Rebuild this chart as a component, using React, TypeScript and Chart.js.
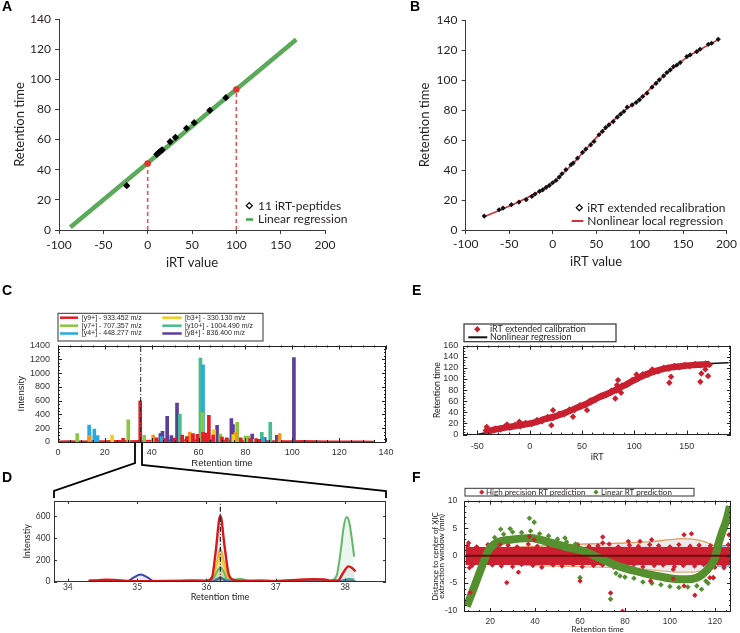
import React, { useEffect, useRef } from 'react';
import { Chart, registerables } from 'chart.js';
Chart.register(...registerables);

const LATO = 'Lato, "Open Sans", "DejaVu Sans", sans-serif';
const ARIAL = '"Liberation Sans", Arial, sans-serif';
const TXT = '#231f20';

// ---------------- Panel A ----------------
const aPeptideIrt = [-23.6, 10.3, 12.3, 14.3, 16.3, 25.3, 31.3, 43.8, 52.4, 70.1, 88.2];
const aPeptideRt = [29.4, 50.2, 51.3, 52.3, 53.2, 58.6, 61.5, 67.5, 71.2, 79.4, 87.8];
const aRegIrt = [-87.2, 167.6];
const aRegRt = [1.8, 126.4];
const aAnchorIrt = [0, 100];
const aAnchorRt = [44.2, 93.3];

// ---------------- Panel B ----------------
const bIrt = [-78.7, -61.6, -57, -47.5, -38.7, -30.4, -23.9, -20.2, -15.2, -11.4, -7.6, -3.8, 0, 3.8, 7.6, 10.7, 15.2, 21, 23.6, 28.6, 34.3, 38.1, 43.8, 47.6, 53.3, 57.2, 61, 64.8, 69.7, 74.3, 78.1, 81.9, 85.7, 91.4, 96, 99.8, 103.6, 108.5, 114.3, 118.9, 122.7, 127.6, 131.4, 135.2, 139, 142.9, 146.7, 154.3, 158.1, 165.7, 169.5, 179, 182.8, 190.4];
const bRt = [9.3, 13.5, 14.6, 16.9, 18.6, 20.2, 22.4, 24, 25.7, 26.8, 28.4, 29.7, 31.5, 33, 35.3, 37.5, 40.2, 43.5, 44.6, 47.9, 51.7, 53.9, 56.8, 59, 63.5, 65.7, 68.3, 70.1, 72.3, 75.2, 77.2, 79, 81.9, 83.4, 85, 86.8, 89, 91.2, 95.2, 97.8, 100.1, 102.7, 105, 106.7, 108.9, 110, 111.6, 115.6, 116.7, 118.9, 120.5, 123.8, 124.5, 127.1];
const bFitIrt = [-78, -60, -40, -20, 0, 20, 40, 60, 80, 100, 120, 140, 160, 180, 190];
const bFitRt = [9, 13.4, 18.5, 24.3, 31.5, 42.3, 55, 67.6, 78.3, 87.3, 98.7, 108.8, 117.2, 123.6, 126.8];

// ---------------- Panel C ----------------
const cY9T = [27.8, 35.1, 42, 45.5, 49.8, 53, 55, 57.6, 59.5, 61.9, 63, 64.4, 66.2, 70, 72, 78, 82, 84.6, 86, 105];
const cY9I = [53, 599, 60, 50, 58, 100, 80, 121, 110, 140, 130, 386, 100, 70, 60, 60, 50, 50, 40, 20];
const cY7T = [8.2, 30, 36.8, 61.6, 69.3, 76.5, 80, 81.2];
const cY7I = [121, 323, 97, 430, 116, 285, 87, 85];
const cY4T = [13.3, 15.5, 16.9, 44.2, 61.9, 87.6];
const cY4I = [246, 188, 92, 80, 1120, 60];
const cB3T = [23.1, 66.6, 74.8, 84];
const cB3I = [101, 179, 106, 40];
const cOrT = [13.6, 40.6, 56.2, 75.8, 94.6];
const cOrI = [97, 101, 145, 140, 121];
const cY10T = [52, 60.8, 72.2, 87, 90.6];
const cY10I = [406, 1217, 50, 140, 285];
const cY8T = [43.7, 44.6, 46.6, 48.4, 50.8, 57.4, 67.9, 74, 74.7, 82.9, 88.2, 93.4, 100.7];
const cY8I = [121, 155, 372, 92, 565, 100, 241, 338, 251, 116, 63, 97, 1226];
const cBaseT = [0, 5, 10, 15, 20, 25, 30, 35, 40, 45, 50, 55, 60, 65, 70, 75, 80, 85, 90, 95, 100, 105, 110, 115, 120, 125, 130, 135];
const cBaseI = [8, 10, 9, 12, 10, 14, 12, 15, 18, 20, 22, 25, 20, 22, 18, 20, 16, 14, 12, 12, 10, 15, 10, 8, 8, 6, 6, 5];
const cMarkT = [35.3, 35.3];
const cMarkI = [0, 1400];

// ---------------- Panel D ----------------
const dRedT = [34.3, 34.45, 34.55, 34.7, 34.85, 35.1, 35.4, 35.7, 35.85, 36.0, 36.08, 36.13, 36.2, 36.26, 36.32, 36.4, 36.55, 36.8, 37.1, 37.35, 37.55, 37.7, 37.8, 37.9, 37.97, 38.05, 38.1, 38.15];
const dRedI = [10, 14, 18, 14, 8, 5, 6, 8, 10, 8, 40, 260, 605, 330, 70, 15, 6, 5, 8, 18, 22, 20, 8, 12, 80, 140, 125, 95];
const dOrT = [34.3, 35.6, 35.8, 36.0, 36.08, 36.14, 36.2, 36.26, 36.33, 36.45, 37.0, 37.9, 38.0, 38.15];
const dOrI = [5, 5, 15, 5, 20, 150, 300, 160, 20, 5, 5, 5, 8, 8];
const dYeT = [36.0, 36.1, 36.15, 36.2, 36.25, 36.3, 36.4];
const dYeI = [3, 40, 160, 240, 150, 30, 3];
const dGrT = [34.3, 36.0, 36.1, 36.15, 36.2, 36.25, 36.3, 36.4, 36.5, 36.6, 36.8, 36.9, 37.0, 37.8, 38.15];
const dGrI = [3, 3, 30, 90, 130, 90, 20, 20, 25, 10, 15, 10, 3, 3, 3];
const dLgT = [37.0, 37.75, 37.82, 37.88, 37.93, 37.98, 38.02, 38.06, 38.1, 38.13];
const dLgI = [3, 3, 15, 60, 250, 500, 590, 540, 380, 230];
const dTeT = [34.3, 36.05, 36.15, 36.2, 36.25, 36.35, 37.9, 37.98, 38.05, 38.13];
const dTeI = [2, 2, 25, 40, 25, 2, 2, 15, 25, 20];
const dBlT = [34.3, 34.85, 34.95, 35.05, 35.15, 35.25, 36.1, 36.17, 36.2, 36.23, 36.3, 38.15];
const dBlI = [2, 2, 40, 65, 40, 2, 2, 25, 35, 25, 2, 2];
const dMarkT = [36.2, 36.2];
const dMarkI = [0, 740];

// ---------------- Panel E ----------------
const eFitIrt = [-50, -30, 0, 25, 50, 75, 100, 125, 150, 170, 190];
const eFitRt = [0, 8, 20, 33, 51, 74, 100, 117, 125, 128, 129.3];
const eBandIrt = [-43, -35, -25, -15, -5, 5, 15, 25, 35, 45, 55, 65, 75, 85, 95, 105, 115, 125, 135, 145, 155, 165, 172];
const eBandRt = [5, 8, 12, 15, 18, 22, 28, 33, 40, 48, 56, 66, 74, 83, 93, 103, 111, 117, 121, 123, 125, 126, 127];
const ePtIrt = [-42, -38, -33, -28, -24, -19, -14, -9, -4, 2, 7, 12, 17, 22, 28, 33, 38, 43, 48, 53, 58, 63, 68, 73, 78, 83, 88, 93, 98, 103, 108, 113, 118, 123, 128, 133, 138, 143, 148, 153, 158, 163, 168, 172];
const ePtRt = [7, 5, 11, 9, 14, 12, 17.5, 15, 21, 19, 26, 24, 31.5, 29.5, 37.5, 36.5, 45, 44, 53, 52, 61.5, 62, 70, 70.5, 79, 79, 88.5, 89, 98.5, 99.5, 108.5, 107.5, 115.5, 114, 120.5, 118.5, 123.5, 121, 125.5, 123, 127, 124.5, 128, 125.5];
const eOutIrt = [-41, -21.7, -9.9, 20.7, 22.3, 41.4, 54.8, 57.3, 81.8, 83.4, 84.4, 87.3, 102, 117, 133.4, 135, 132.2, 163, 164, 170.4, 167.8];
const eOutRt = [13.8, 18, 22.9, 16.8, 43.9, 31.9, 43.9, 58.9, 65, 89, 98, 75.2, 108.3, 117.3, 93.2, 104.1, 120.9, 95, 110, 105.3, 117.3];

// ---------------- Panel F ----------------
const fZeroRt = [9, 127];
const fZeroD = [0, 0];
const fRedBandRt = [9, 127];
const fRedBandHi = [1.5, 1.5];
const fRedBandLo = [-1.6, -1.6];
const fRedTopRt = [10, 14, 19, 23, 28, 32, 37, 41, 46, 50, 55, 59, 64, 68, 73, 77, 82, 86, 91, 95, 100, 104, 109, 113, 118, 122, 126];
const fRedTopD = [1.8, 1.6, 2.0, 1.7, 1.9, 1.6, 2.1, 1.7, 1.8, 1.9, 1.6, 2.0, 1.7, 1.8, 2.1, 1.6, 1.9, 1.7, 2.0, 1.8, 1.6, 2.0, 1.7, 1.9, 1.8, 1.6, 2.0];
const fRedBotRt = [12, 16, 21, 25, 30, 34, 39, 43, 48, 52, 57, 61, 66, 70, 75, 79, 84, 88, 93, 97, 102, 106, 111, 115, 120, 124];
const fRedBotD = [-1.8, -2.1, -1.7, -1.9, -2.0, -1.6, -1.8, -2.1, -1.7, -1.9, -1.6, -2.0, -1.8, -1.7, -2.1, -1.9, -1.6, -2.0, -1.8, -1.7, -2.0, -1.8, -1.9, -1.6, -2.1, -1.8];
const fRedOutRt = [10.4, 10.8, 11.1, 14.1, 24.4, 27.4, 32.6, 37.5, 39.6, 60, 70.1, 70.1, 73.6, 78.9, 81.5, 86.7, 91.4, 91.9, 101.5, 101.5, 106.3, 106.3, 109.6, 111.1, 117.8, 119.3, 124.1, 126.3];
const fRedOutD = [2.3, -2.2, -6.7, 1.4, 2, -4.9, -3, 3.5, 2.9, -4.6, 3.4, 2.3, -6.8, -10.1, 2.6, 2.6, -4.6, 2.9, -2.5, -4.2, 3.8, -5.5, 4, -7.2, -4, -4, -2.2, 3.8];
const fGrnRt = [9.6, 11.9, 14.1, 16.3, 17.8, 19.3, 21.5, 24.4, 28.9, 33.3, 37.8, 42.2, 46.7, 51.1, 55.6, 60, 64.4, 68.9, 73.3, 77.8, 83.7, 89.6, 95.6, 101.5, 107.4, 111.9, 114.8, 117.8, 120, 121.5, 123, 125.2, 126.7];
const fGrnD = [-9.2, -6.8, -4.4, -2.0, -0.4, 1.0, 2.0, 2.6, 2.9, 3.1, 3.2, 2.9, 2.4, 1.9, 1.4, 1.0, 0.4, -0.5, -1.3, -2.0, -2.7, -3.3, -3.8, -4.2, -4.3, -4.0, -3.3, -2.0, -0.5, 2.0, 4.0, 6.5, 9.0];
const fGrnPtRt = [22, 26, 30, 34, 38, 42, 46, 50, 54, 58, 76, 80, 84, 88, 92, 96, 100, 104, 108, 112, 116];
const fGrnPtD = [3.3, 3.9, 4.3, 4.2, 4.5, 4.0, 3.6, 3.0, 2.5, 2.1, -3.2, -3.9, -4.1, -4.8, -5.0, -5.3, -5.6, -5.8, -5.7, -5.5, -4.6];
const fGrnOutRt = [24.7, 28.9, 37.5, 39.6, 53.3, 60, 73.6, 77.8, 114.1, 117, 119.3];
const fGrnOutD = [4.8, 4.9, 6.8, 6.1, 3.2, -4, -7.9, -3.7, -6.1, -5, -4];
const fOrRt = [9, 20, 30, 40, 50, 60, 70, 80, 90, 100, 105, 110, 115, 120, 122];
const fOrHi = [1.1, 1.3, 1.5, 1.7, 1.9, 2.1, 2.2, 2.3, 2.5, 2.9, 3.1, 3.0, 2.6, 1.8, 1.6];
const fOrLo = [-1.3, -1.5, -1.6, -1.8, -1.9, -2.0, -2.1, -2.2, -2.5, -2.9, -3.0, -3.0, -2.6, -1.9, -1.7];
const fBlueRt = [121, 127];
const fBlueHi = [1.8, 1.8];
const fBlueLo = [-1.9, -1.9];

// ---------------- helpers ----------------
const pts = (xs: number[], ys: number[]) => xs.map((x, i) => ({ x, y: ys[i] }));
const fmt = (v: any) => String(v);

function frame(ticks: any[], color = '#222') {
  return {
    id: 'frameTicks',
    afterDatasetsDraw(chart: any) {
      const { ctx, chartArea: ca, scales } = chart;
      ctx.save();
      ctx.strokeStyle = color;
      ctx.lineWidth = 1;
      ctx.strokeRect(Math.round(ca.left) + 0.5, Math.round(ca.top) + 0.5, Math.round(ca.right - ca.left) - 1, Math.round(ca.bottom - ca.top) - 1);
      ticks.forEach((t: any) => {
        const s = scales[t.axis];
        const k0 = Math.ceil((s.min - 1e-9) / t.step);
        const k1 = Math.floor((s.max + 1e-9) / t.step);
        ctx.beginPath();
        for (let k = k0; k <= k1; k++) {
          const p = Math.round(s.getPixelForValue(k * t.step)) + 0.5;
          t.sides.forEach((side: string) => {
            if (side === 'bottom') { ctx.moveTo(p, ca.bottom); ctx.lineTo(p, ca.bottom - t.len); }
            if (side === 'top') { ctx.moveTo(p, ca.top); ctx.lineTo(p, ca.top + t.len); }
            if (side === 'left') { ctx.moveTo(ca.left, p); ctx.lineTo(ca.left + t.len, p); }
            if (side === 'right') { ctx.moveTo(ca.right, p); ctx.lineTo(ca.right - t.len, p); }
          });
        }
        ctx.stroke();
      });
      ctx.restore();
    },
  };
}

function legend(cfg: any) {
  return {
    id: 'legendBox',
    afterDraw(chart: any) {
      const ctx = chart.ctx;
      ctx.save();
      if (cfg.box) {
        const [x1, y1, x2, y2] = cfg.box;
        ctx.fillStyle = '#fff';
        ctx.fillRect(x1, y1, x2 - x1, y2 - y1);
        ctx.strokeStyle = '#333';
        ctx.lineWidth = cfg.boxLw || 1;
        ctx.strokeRect(x1, y1, x2 - x1, y2 - y1);
      }
      ctx.font = cfg.font;
      ctx.textBaseline = 'middle';
      ctx.textAlign = 'left';
      cfg.items.forEach((it: any) => {
        if (it.kind === 'line') {
          ctx.strokeStyle = it.color;
          ctx.lineWidth = it.lw || 2;
          ctx.beginPath();
          ctx.moveTo(it.x1, it.y);
          ctx.lineTo(it.x2, it.y);
          ctx.stroke();
        } else {
          const r = it.r || 3;
          ctx.beginPath();
          ctx.moveTo(it.x1, it.y - r);
          ctx.lineTo(it.x1 + r, it.y);
          ctx.lineTo(it.x1, it.y + r);
          ctx.lineTo(it.x1 - r, it.y);
          ctx.closePath();
          if (it.kind === 'odiamond') { ctx.strokeStyle = it.color; ctx.lineWidth = 1.2; ctx.stroke(); }
          else { ctx.fillStyle = it.color; ctx.fill(); }
        }
        ctx.fillStyle = cfg.color || TXT;
        ctx.fillText(it.text, it.tx, it.y + (cfg.dy || 0));
      });
      ctx.restore();
    },
  };
}

function openAxis(o: any) {
  return {
    type: 'linear', min: o.min, max: o.max, offset: false,
    afterFit: (s: any) => { if (o.horizontal) s.height = o.fit; else s.width = o.fit; },
    ticks: { stepSize: o.step, font: { family: LATO, size: 12 }, color: TXT, padding: o.pad, includeBounds: false, autoSkip: false, maxRotation: 0, minRotation: 0, callback: fmt },
    grid: { drawOnChartArea: false, drawTicks: true, tickLength: 4, color: '#3a3a3a' },
    border: { display: true, color: '#3a3a3a', width: 1 },
    title: { display: true, text: o.title, font: { family: LATO, size: 13 }, color: TXT, padding: o.horizontal ? { top: 0, bottom: o.titlePad } : { top: o.titlePad, bottom: 0 } },
  };
}

function boxAxis(o: any) {
  return {
    type: 'linear', min: o.min, max: o.max, offset: false,
    afterFit: (s: any) => { if (o.horizontal) s.height = o.fit; else s.width = o.fit; },
    ticks: { stepSize: o.step, font: o.tickFont, color: '#333', padding: o.pad, includeBounds: false, autoSkip: false, maxRotation: 0, minRotation: 0, callback: fmt },
    grid: { display: false, drawTicks: false, offset: false },
    border: { display: false },
    title: { display: true, text: o.title, font: o.titleFont, color: '#222', padding: o.horizontal ? { top: 0, bottom: o.titlePad } : { top: o.titlePad, bottom: 0 } },
  };
}

function base(padding: any, scales: any) {
  return {
    responsive: false, animation: false, devicePixelRatio: 1, events: [],
    layout: { padding },
    plugins: { legend: { display: false }, tooltip: { enabled: false }, title: { display: false } },
    scales,
  };
}

const lineDs = (xs: number[], ys: number[], color: string, w: number, extra: any = {}) => ({
  type: 'line', data: pts(xs, ys), borderColor: color, borderWidth: w, pointRadius: 0, fill: false, ...extra,
});
const dotDs = (xs: number[], ys: number[], color: string, r: number, extra: any = {}) => ({
  type: 'scatter', data: pts(xs, ys), pointStyle: 'rectRot', pointRadius: r, pointBackgroundColor: color, pointBorderWidth: 0, backgroundColor: color, borderWidth: 0, ...extra,
});

// ---------------- chart configs ----------------
function makeA() {
  return {
    type: 'scatter',
    data: {
      datasets: [
        dotDs(aAnchorIrt, aAnchorRt, '#e8302c', 3.2, { pointStyle: 'circle' }),
        dotDs(aPeptideIrt, aPeptideRt, '#000', 3.6),
        lineDs(aRegIrt, aRegRt, '#5aaa5a', 4.5),
        lineDs([aAnchorIrt[0], aAnchorIrt[0]], [0, aAnchorRt[0]], '#e05555', 1.6, { borderDash: [4, 3] }),
        lineDs([aAnchorIrt[1], aAnchorIrt[1]], [0, aAnchorRt[1]], '#e05555', 1.6, { borderDash: [4, 3] }),
      ],
    },
    options: base({ left: 0, right: 40, top: 19, bottom: 0 }, {
      x: openAxis({ min: -100, max: 200, step: 50, horizontal: true, fit: 45, pad: 4, title: 'iRT value', titlePad: 4.2 }),
      y: openAxis({ min: 0, max: 140, step: 20, horizontal: false, fit: 59, pad: 4, title: 'Retention time', titlePad: 12.2 }),
    }),
    plugins: [legend({
      font: `12px ${LATO}`,
      items: [
        { kind: 'odiamond', color: '#000', x1: 249.3, y: 205.7, r: 3, text: '11 iRT-peptides', tx: 258 },
        { kind: 'line', color: '#3fa64a', x1: 246, x2: 253, y: 219.5, lw: 2.5, text: 'Linear regression', tx: 258 },
      ],
    })],
  };
}

function makeB() {
  return {
    type: 'scatter',
    data: {
      datasets: [
        dotDs(bIrt, bRt, '#111', 2.6),
        lineDs(bFitIrt, bFitRt, '#d0313d', 1.6, { cubicInterpolationMode: 'monotone' }),
      ],
    },
    options: base({ left: 0, right: 12, top: 20, bottom: 0 }, {
      x: openAxis({ min: -100, max: 200, step: 50, horizontal: true, fit: 45, pad: 3, title: 'iRT value', titlePad: 4.9 }),
      y: openAxis({ min: 0, max: 140, step: 20, horizontal: false, fit: 95.7, pad: 4.3, title: 'Retention time', titlePad: 47.2 }),
    }),
    plugins: [legend({
      font: `12px ${LATO}`,
      items: [
        { kind: 'odiamond', color: '#000', x1: 209.3, y: 207.7, r: 3, text: 'iRT extended recalibration', tx: 217.3 },
        { kind: 'line', color: '#d0313d', x1: 201.7, x2: 213.3, y: 221, lw: 2, text: 'Nonlinear local regression', tx: 217.3 },
      ],
    })],
  };
}

const C_RED = '#e41e26', C_GRN = '#8cc63f', C_BLU = '#27aae1', C_YEL = '#f2cd1e', C_ORA = '#f7941d', C_TEAL = '#45bd8f', C_PUR = '#5b3f99';
const barDs = (t: number[], v: number[], color: string) => ({
  type: 'bar', data: pts(t, v), backgroundColor: color, borderWidth: 0, barThickness: 3, grouped: false,
});

function makeC() {
  return {
    type: 'bar',
    data: {
      datasets: [
        lineDs(cMarkT, cMarkI, '#222', 1, { borderDash: [5, 2, 1, 2] }),
        barDs(cY9T, cY9I, C_RED),
        barDs(cB3T, cB3I, C_YEL),
        barDs(cOrT, cOrI, C_ORA),
        barDs(cY7T, cY7I, C_GRN),
        barDs(cY4T, cY4I, C_BLU),
        barDs(cY10T, cY10I, C_TEAL),
        barDs(cY8T, cY8I, C_PUR),
        lineDs(cBaseT, cBaseI, C_RED, 2),
      ],
    },
    options: base({ left: 0, right: 14, top: 45.5, bottom: 0 }, {
      x: boxAxis({ min: 0, max: 140, step: 20, horizontal: true, fit: 28, pad: 5.6, tickFont: { family: ARIAL, size: 9 }, title: 'Retention time', titleFont: { family: ARIAL, size: 9.5 }, titlePad: 1.3 }),
      y: boxAxis({ min: 0, max: 1400, step: 200, horizontal: false, fit: 58, pad: 8, tickFont: { family: ARIAL, size: 9 }, title: 'Intensity', titleFont: { family: ARIAL, size: 9.5 }, titlePad: 16 }),
    }),
    plugins: [
      frame([
        { axis: 'x', step: 20, len: 4, sides: ['bottom', 'top'] },
        { axis: 'x', step: 5, len: 2, sides: ['bottom', 'top'] },
        { axis: 'y', step: 200, len: 4, sides: ['left', 'right'] },
        { axis: 'y', step: 50, len: 2, sides: ['left', 'right'] },
      ]),
      legend({
        font: `7px ${ARIAL}`,
        box: [58, 13.3, 263, 41],
        items: [
          { kind: 'line', color: C_RED, x1: 60, x2: 78, y: 17.7, lw: 2.5, text: '[y9+] - 933.452 m/z', tx: 81.7 },
          { kind: 'line', color: C_GRN, x1: 60, x2: 78, y: 25.7, lw: 2.5, text: '[y7+] - 707.357 m/z', tx: 81.7 },
          { kind: 'line', color: C_BLU, x1: 60, x2: 78, y: 33.5, lw: 2.5, text: '[y4+] - 448.277 m/z', tx: 81.7 },
          { kind: 'line', color: C_YEL, x1: 162.3, x2: 181.7, y: 17.7, lw: 2.5, text: '[b3+] - 330.130 m/z', tx: 185 },
          { kind: 'line', color: C_TEAL, x1: 162.3, x2: 181.7, y: 25.7, lw: 2.5, text: '[y10+] - 1004.490 m/z', tx: 185 },
          { kind: 'line', color: C_PUR, x1: 162.3, x2: 181.7, y: 33.5, lw: 2.5, text: '[y8+] - 836.400 m/z', tx: 185 },
        ],
      }),
    ],
  };
}

const dLine = (t: number[], v: number[], color: string, fillColor: string, w = 2) => ({
  type: 'line', data: pts(t, v), borderColor: color, backgroundColor: fillColor, fill: 'origin', borderWidth: w, pointRadius: 0, cubicInterpolationMode: 'monotone',
});

function makeD() {
  return {
    type: 'line',
    data: {
      datasets: [
        lineDs(dMarkT, dMarkI, '#222', 1.2, { borderDash: [5, 2, 1, 2] }),
        dLine(dRedT, dRedI, '#d7191c', 'rgba(190,190,190,0.18)', 2.4),
        dLine(dBlT, dBlI, '#3949ab', 'rgba(57,73,171,0.12)', 2),
        dLine(dTeT, dTeI, '#2a9d8f', 'rgba(42,157,143,0.15)', 2),
        dLine(dGrT, dGrI, '#5cb85c', 'rgba(92,184,92,0.18)', 2),
        dLine(dYeT, dYeI, '#f2d31b', 'rgba(242,211,27,0.25)', 2),
        dLine(dOrT, dOrI, '#f5a623', 'rgba(245,166,35,0.2)', 2),
        dLine(dLgT, dLgI, '#62b866', 'rgba(120,195,140,0.15)', 2),
      ],
    },
    options: base({ left: 0, right: 14, top: 31, bottom: 0 }, {
      x: boxAxis({ min: 33.8, max: 38.59, step: 1, horizontal: true, fit: 28.3, pad: 0.9, tickFont: { family: LATO, size: 8.5 }, title: 'Retention time', titleFont: { family: LATO, size: 9 }, titlePad: 7.9 }),
      y: boxAxis({ min: 0, max: 737, step: 200, horizontal: false, fit: 54, pad: 3.5, tickFont: { family: LATO, size: 8.5 }, title: 'Intenstiy', titleFont: { family: LATO, size: 9 }, titlePad: 21.3 }),
    }),
    plugins: [
      frame([
        { axis: 'x', step: 1, len: 3, sides: ['bottom', 'top'] },
        { axis: 'y', step: 200, len: 3, sides: ['left', 'right'] },
      ], '#333'),
    ],
  };
}

const E_RED = '#c8202f';
function makeE() {
  return {
    type: 'scatter',
    data: {
      datasets: [
        dotDs(eOutIrt, eOutRt, E_RED, 3.2),
        dotDs(ePtIrt, ePtRt, E_RED, 3.2),
        lineDs(eBandIrt, eBandRt, E_RED, 6.5, { cubicInterpolationMode: 'monotone' }),
        lineDs(eFitIrt, eFitRt, '#111', 1.5, { cubicInterpolationMode: 'monotone' }),
      ],
    },
    options: base({ left: 0, right: 9, top: 45.7, bottom: 0 }, {
      x: boxAxis({ min: -63.4, max: 192.3, step: 50, horizontal: true, fit: 30.5, pad: 6.8, tickFont: { family: ARIAL, size: 9 }, title: 'iRT', titleFont: { family: LATO, size: 9 }, titlePad: 2.9 }),
      y: boxAxis({ min: 0, max: 160, step: 20, horizontal: false, fit: 63.3, pad: 5, tickFont: { family: ARIAL, size: 9 }, title: 'Retention time', titleFont: { family: LATO, size: 8.6 }, titlePad: 32 }),
    }),
    plugins: [
      frame([
        { axis: 'x', step: 50, len: 4, sides: ['bottom', 'top'] },
        { axis: 'x', step: 10, len: 2, sides: ['bottom', 'top'] },
        { axis: 'y', step: 20, len: 4, sides: ['left', 'right'] },
        { axis: 'y', step: 5, len: 2, sides: ['left', 'right'] },
      ]),
      legend({
        font: `9px ${LATO}`,
        box: [64, 24, 216, 41.7],
        boxLw: 1.2,
        items: [
          { kind: 'diamond', color: E_RED, x1: 77.3, y: 29.3, r: 3.2, text: 'iRT extended calibration', tx: 90 },
          { kind: 'line', color: '#111', x1: 68.3, x2: 87.3, y: 37.3, lw: 2, text: 'Nonlinear regression', tx: 90 },
        ],
      }),
    ],
  };
}

const F_RED = '#cc1f2f', F_GRN = '#55902f';
function makeF() {
  return {
    type: 'scatter',
    data: {
      datasets: [
        lineDs(fZeroRt, fZeroD, '#6b0a0a', 2),
        dotDs(fRedOutRt, fRedOutD, F_RED, 2.7),
        dotDs(fGrnOutRt, fGrnOutD, F_GRN, 2.8),
        dotDs(fGrnPtRt, fGrnPtD, F_GRN, 2.8),
        lineDs(fGrnRt, fGrnD, F_GRN, 8, { cubicInterpolationMode: 'monotone' }),
        dotDs(fRedTopRt, fRedTopD, F_RED, 2.7),
        dotDs(fRedBotRt, fRedBotD, F_RED, 2.7),
        lineDs(fRedBandRt, fRedBandHi, F_RED, 1, { fill: '+1', backgroundColor: F_RED }),
        lineDs(fRedBandRt, fRedBandLo, F_RED, 1),
        lineDs(fBlueRt, fBlueHi, '#4aa8e0', 1.5),
        lineDs(fBlueRt, fBlueLo, '#4aa8e0', 1.5),
        lineDs(fOrRt, fOrHi, '#e0a060', 1.3, { fill: '+1', backgroundColor: 'rgba(215,215,215,0.5)', cubicInterpolationMode: 'monotone' }),
        lineDs(fOrRt, fOrLo, '#e0a060', 1.3, { cubicInterpolationMode: 'monotone' }),
      ],
    },
    options: base({ left: 0, right: 9, top: 20.7, bottom: 0 }, {
      x: boxAxis({ min: 8.5, max: 127.2, step: 20, horizontal: true, fit: 21, pad: 4.9, tickFont: { family: ARIAL, size: 8.5 }, title: 'Retention time', titleFont: { family: LATO, size: 8, lineHeight: 0.85 }, titlePad: 0 }),
      y: boxAxis({ min: -10.25, max: 10, step: 5, horizontal: false, fit: 64.3, pad: 7, tickFont: { family: ARIAL, size: 8.5 }, title: ['Distance to center of XIC', 'extraction window (min)'], titleFont: { family: LATO, size: 8, lineHeight: 0.85 }, titlePad: 31.6 }),
    }),
    plugins: [
      frame([
        { axis: 'x', step: 20, len: 4, sides: ['bottom', 'top'] },
        { axis: 'x', step: 5, len: 2, sides: ['bottom', 'top'] },
        { axis: 'y', step: 5, len: 4, sides: ['left', 'right'] },
        { axis: 'y', step: 1, len: 2, sides: ['left', 'right'] },
      ]),
      legend({
        font: `8px ${LATO}`,
        box: [65, 8.3, 294, 16],
        items: [
          { kind: 'diamond', color: F_RED, x1: 81.7, y: 12.2, r: 2.6, text: 'High precision RT prediction', tx: 86 },
          { kind: 'diamond', color: F_GRN, x1: 196, y: 12.2, r: 2.6, text: 'Linear RT prediction', tx: 201 },
        ],
      }),
    ],
  };
}

function ChartCanvas(props: { left: number; top: number; width: number; height: number; make: () => any }) {
  const ref = useRef<HTMLCanvasElement>(null);
  useEffect(() => {
    const chart = new Chart(ref.current as HTMLCanvasElement, props.make());
    return () => chart.destroy();
  }, []);
  return (
    <canvas
      ref={ref}
      width={props.width}
      height={props.height}
      style={{ position: 'absolute', left: props.left, top: props.top, width: props.width, height: props.height }}
    />
  );
}

export default function App() {
  return (
    <div style={{ position: 'absolute', left: 0, top: 0, width: 740, height: 633, background: '#fff', overflow: 'hidden' }}>
      <ChartCanvas left={0} top={0} width={365} height={275} make={makeA} />
      <ChartCanvas left={370} top={0} width={370} height={275} make={makeB} />
      <ChartCanvas left={0} top={300} width={400} height={170} make={makeC} />
      <ChartCanvas left={0} top={470} width={400} height={140} make={makeD} />
      <ChartCanvas left={400} top={300} width={340} height={165} make={makeE} />
      <ChartCanvas left={400} top={480} width={340} height={153} make={makeF} />
      <svg width={740} height={633} style={{ position: 'absolute', left: 0, top: 0, pointerEvents: 'none' }}>
        <g fontFamily={ARIAL} fontWeight="bold" fontSize={14} fill="#000">
          <text x={2} y={11}>A</text>
          <text x={410} y={11}>B</text>
          <text x={2} y={295}>C</text>
          <text x={2} y={482}>D</text>
          <text x={412} y={295}>E</text>
          <text x={412} y={482}>F</text>
        </g>
        <polyline points="135,443 135,463 54,491 54,498" fill="none" stroke="#000" strokeWidth={1.8} />
        <polyline points="142,443 142,465 386,491 386,498" fill="none" stroke="#000" strokeWidth={1.8} />
      </svg>
    </div>
  );
}
